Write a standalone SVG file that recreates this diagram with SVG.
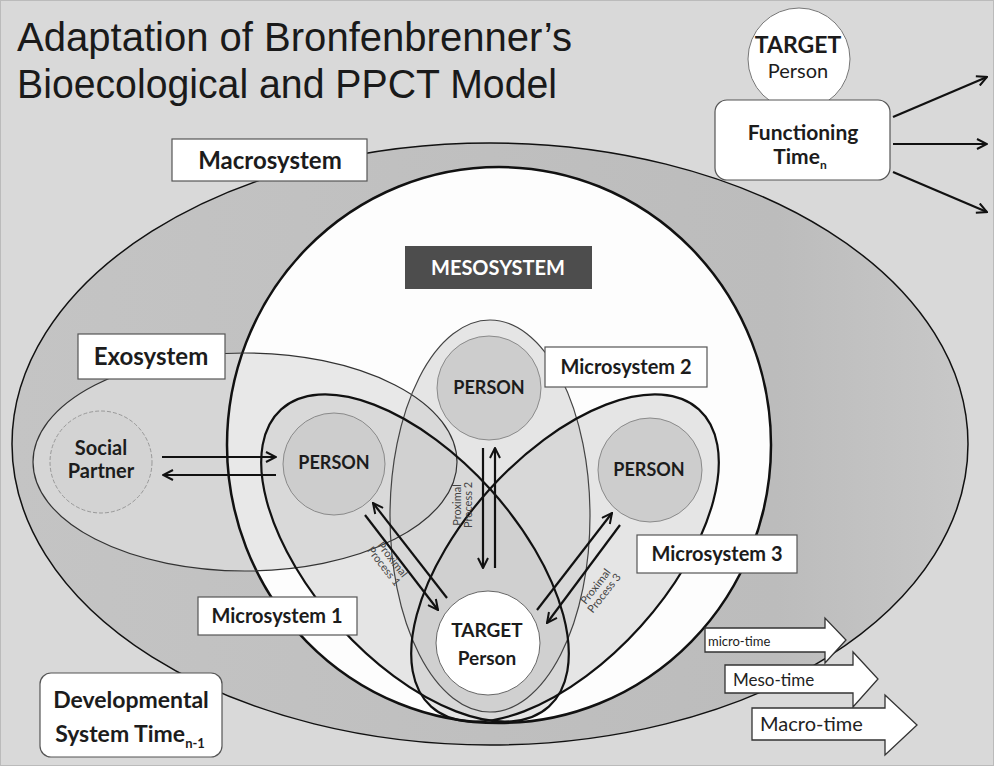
<svg xmlns="http://www.w3.org/2000/svg" width="994" height="766" viewBox="0 0 994 766">
<defs>
<style>
.lbl{fill:#fff;stroke:#555;stroke-width:1.2}
.b{font-family:Lato,"Open Sans","Liberation Sans",sans-serif;font-weight:bold;fill:#1c1c1c;text-anchor:middle}
.r{font-family:Lato,"Open Sans","Liberation Sans",sans-serif;fill:#1c1c1c;text-anchor:middle}
.arr{stroke:#111;stroke-width:2.2;fill:none;marker-end:url(#ah)}
.pc{fill:#cdcdcd;stroke:#8a8a8a;stroke-width:1}
.micro{fill:#c8c8c8;fill-opacity:0.45}
.pp{font-family:Lato,"Liberation Sans",sans-serif;font-size:11px;fill:#444;text-anchor:middle}
.tarr{fill:#fff;stroke:#333;stroke-width:1.3}
.tt{font-family:Lato,"Open Sans","Liberation Sans",sans-serif;fill:#222}
</style>
<marker id="ah" viewBox="0 0 12 12" markerWidth="12" markerHeight="12" refX="11" refY="6" orient="auto" markerUnits="userSpaceOnUse">
<path d="M1,1 L11,6 L1,11" fill="none" stroke="#111" stroke-width="2"/>
</marker>
<clipPath id="mesoClip"><ellipse cx="499" cy="445" rx="272" ry="278"/></clipPath>
<linearGradient id="macroG" x1="0" y1="0" x2="1" y2="0">
<stop offset="0" stop-color="#c4c4c4"/>
<stop offset="0.8" stop-color="#bcbcbc"/>
<stop offset="1" stop-color="#c8c8c8"/>
</linearGradient>
</defs>
<rect width="994" height="766" fill="#d9d9d9"/>
<rect x="0.5" y="0.5" width="993" height="765" fill="none" stroke="#bbb"/>

<g id="macrosystem">
<ellipse cx="490" cy="444" rx="478" ry="301" fill="url(#macroG)" stroke="#111" stroke-width="1.5"/>
</g>
<g id="exosystem-fill">
<ellipse cx="245" cy="462" rx="212" ry="109" fill="#d6d6d6"/>
</g>
<g id="mesosystem">
<ellipse cx="499" cy="445" rx="272" ry="278" fill="#fdfdfd"/>
<ellipse cx="245" cy="462" rx="212" ry="109" fill="#e8e8e8" clip-path="url(#mesoClip)"/>
</g>
<g id="microsystems">
<ellipse class="micro" cx="415" cy="558" rx="200" ry="102" transform="rotate(48 415 558)"/>
<ellipse class="micro" cx="565" cy="558" rx="200" ry="102" transform="rotate(-48 565 558)"/>
<ellipse class="micro" cx="490" cy="516" rx="100" ry="196"/>
</g>
<g id="outlines" fill="none">
<ellipse cx="499" cy="445" rx="272" ry="278" stroke="#111" stroke-width="2.5"/>
<ellipse cx="245" cy="462" rx="212" ry="109" stroke="#333" stroke-width="1.2"/>
<ellipse cx="490" cy="516" rx="100" ry="196" stroke="#444" stroke-width="1.2"/>
<ellipse cx="415" cy="558" rx="200" ry="102" transform="rotate(48 415 558)" stroke="#111" stroke-width="2.2"/>
<ellipse cx="565" cy="558" rx="200" ry="102" transform="rotate(-48 565 558)" stroke="#111" stroke-width="2.2"/>
</g>

<g id="social-partner">
<circle cx="101" cy="462" r="51" fill="#d3d3d3" stroke="#999" stroke-width="1" stroke-dasharray="4 2"/>
<text class="b" x="101" y="455" font-size="20" fill="#333">Social</text>
<text class="b" x="101" y="478" font-size="20" fill="#333">Partner</text>
</g>
<g id="person1">
<circle class="pc" cx="334" cy="464" r="51"/>
<text class="b" x="334" y="469" font-size="18">PERSON</text>
</g>
<g id="person2">
<circle class="pc" cx="489" cy="388" r="52"/>
<text class="b" x="489" y="394" font-size="18">PERSON</text>
</g>
<g id="person3">
<circle class="pc" cx="650" cy="470" r="52"/>
<text class="b" x="649" y="476" font-size="18">PERSON</text>
</g>
<g id="target-person">
<circle cx="488" cy="643" r="52" fill="#fff" stroke="#666" stroke-width="1"/>
<text class="b" x="487" y="637" font-size="19">TARGET</text>
<text class="b" x="487" y="665" font-size="19">Person</text>
</g>

<g id="connectors">
<line class="arr" x1="162" y1="457" x2="276" y2="457"/>
<line class="arr" x1="276" y1="475" x2="163" y2="475"/>
<line class="arr" x1="447" y1="598" x2="373" y2="503"/>
<line class="arr" x1="365" y1="515" x2="438" y2="610"/>
<line class="arr" x1="483" y1="448" x2="483" y2="568"/>
<line class="arr" x1="495" y1="568" x2="495" y2="448"/>
<line class="arr" x1="537" y1="610" x2="612" y2="513"/>
<line class="arr" x1="620" y1="525" x2="547" y2="623"/>
<line class="arr" x1="893" y1="117" x2="987" y2="77"/>
<line class="arr" x1="893" y1="144" x2="987" y2="144"/>
<line class="arr" x1="893" y1="172" x2="987" y2="212"/>
</g>

<g id="proximal-labels">
<g transform="translate(463 505) rotate(-90)">
<text class="pp" x="0" y="-2">Proximal</text>
<text class="pp" x="0" y="9">Process 2</text>
</g>
<g transform="translate(388 563) rotate(52)">
<text class="pp" x="0" y="-2">Proximal</text>
<text class="pp" x="0" y="9">Process 1</text>
</g>
<g transform="translate(600 590) rotate(-52)">
<text class="pp" x="0" y="-2">Proximal</text>
<text class="pp" x="0" y="9">Process 3</text>
</g>
</g>

<g id="label-macrosystem">
<rect class="lbl" x="172" y="139" width="195" height="42"/>
<text class="b" x="270" y="169" font-size="24">Macrosystem</text>
</g>
<g id="label-mesosystem">
<rect x="405" y="246" width="187" height="43" fill="#4d4d4d"/>
<text class="b" x="498" y="275" font-size="20" style="fill:#fff">MESOSYSTEM</text>
</g>
<g id="label-exosystem">
<rect class="lbl" x="78" y="334" width="147" height="45"/>
<text class="b" x="151" y="365" font-size="24">Exosystem</text>
</g>
<g id="label-micro1">
<rect class="lbl" x="198" y="597" width="159" height="38"/>
<text class="b" x="277" y="623" font-size="20">Microsystem 1</text>
</g>
<g id="label-micro2">
<rect class="lbl" x="545" y="347" width="162" height="40"/>
<text class="b" x="626" y="374" font-size="20">Microsystem 2</text>
</g>
<g id="label-micro3">
<rect class="lbl" x="637" y="535" width="160" height="38"/>
<text class="b" x="717" y="561" font-size="20">Microsystem 3</text>
</g>

<g id="developmental-time">
<rect class="lbl" x="40" y="673" width="182" height="84" rx="11"/>
<text class="b" x="131" y="708" font-size="23">Developmental</text>
<text class="b" x="130" y="742" font-size="23">System Time<tspan font-size="13" dy="6">n-1</tspan></text>
</g>

<g id="time-arrows">
<polygon class="tarr" points="705,628 825,628 825,618 846,640 825,663 825,652 705,652"/>
<text class="tt" x="708" y="646" font-size="13">micro-time</text>
<polygon class="tarr" points="725,665 853,665 853,652 878,679 853,707 853,693 725,693"/>
<text class="tt" x="733" y="686" font-size="17">Meso-time</text>
<polygon class="tarr" points="752,708 885,708 885,695 917,725 885,755 885,740 752,740"/>
<text class="tt" x="760" y="731" font-size="20">Macro-time</text>
</g>

<g id="title">
<text x="17" y="51" font-family="'Liberation Sans',Arial,sans-serif" font-size="40" fill="#1a1a1a" textLength="555" lengthAdjust="spacingAndGlyphs">Adaptation of Bronfenbrenner’s</text>
<text x="17" y="98" font-family="'Liberation Sans',Arial,sans-serif" font-size="40" fill="#1a1a1a" textLength="540" lengthAdjust="spacingAndGlyphs">Bioecological and PPCT Model</text>
</g>

<g id="target-top">
<circle cx="799" cy="59" r="51" fill="#fff" stroke="#777" stroke-width="1"/>
<text class="b" x="798" y="53" font-size="23">TARGET</text>
<text class="r" x="798" y="78" font-size="20">Person</text>
</g>
<g id="functioning-time">
<rect class="lbl" x="715" y="100" width="175" height="80" rx="12"/>
<text class="b" x="803" y="140" font-size="21">Functioning</text>
<text class="b" x="800" y="164" font-size="21">Time<tspan font-size="12" dy="5">n</tspan></text>
</g>
</svg>
